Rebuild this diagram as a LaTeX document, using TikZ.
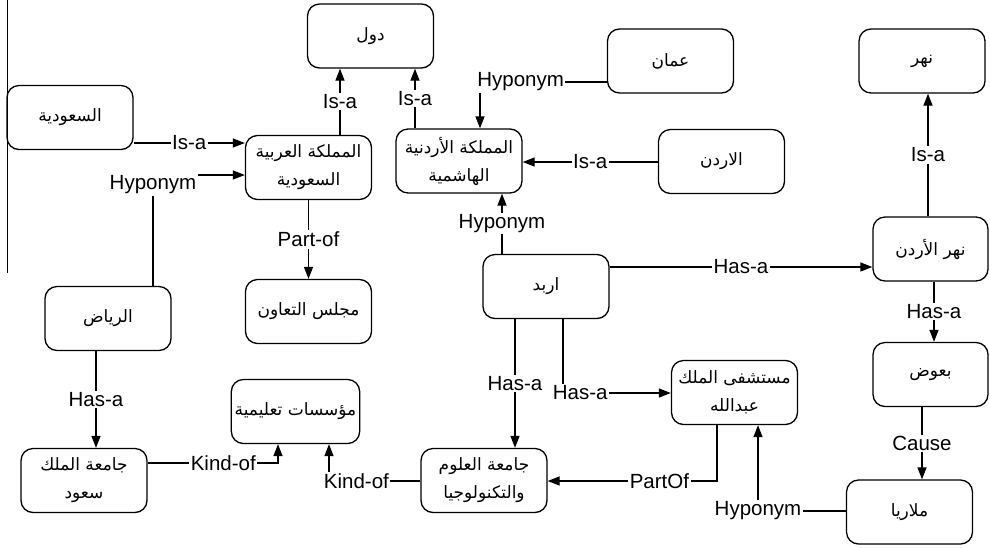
\documentclass[tikz,border=0pt]{standalone}
\usepackage{fontspec}
\setmainfont{Liberation Sans}
\newfontfamily\arabicfont[Script=Arabic]{DejaVu Sans}
\TeXXeTstate=1
\usetikzlibrary{arrows.meta}
\newcommand{\artxt}[1]{\beginR #1\endR}

\begin{document}
\begin{tikzpicture}[x=1pt,y=-1pt,line width=1.3pt,>={Triangle[length=12pt,width=9pt]},
  box/.style={draw,rounded corners=12pt,minimum width=126pt,minimum height=64pt,align=center,
    font={\arabicfont\fontsize{17}{28}\selectfont}},
  lbl/.style={fill=white,inner sep=1.5pt,font={\fontsize{20.5}{22}\selectfont}}]

\useasboundingbox (0,0) rectangle (990,547);
\draw[line width=1pt] (7,0) -- (7,273);

% The concepts
\node[box] (dol) at (370.5,36) {\artxt{دول}};
\node[box] (saudia) at (70,117.5) {\artxt{السعودية}};
\node[box] (mas) at (308.5,167.5) {\artxt{المملكة العربية}\\\artxt{السعودية}};
\node[box] (maj) at (459,161) {\artxt{المملكة الأردنية}\\\artxt{الهاشمية}};
\node[box] (oman) at (670.5,61) {\artxt{عمان}};
\node[box] (urdun) at (721.5,161.5) {\artxt{الاردن}};
\node[box] (nahr) at (922,61) {\artxt{نهر}};
\node[box,minimum width=115pt] (nahrurdun) at (930.5,249) {\artxt{نهر الأردن}};
\node[box] (irbid) at (546,286.5) {\artxt{اربد}};
\node[box] (majlis) at (308.5,311.5) {\artxt{مجلس التعاون}};
\node[box] (riyadh) at (108,318.5) {\artxt{الرياض}};
\node[box] (muassasat) at (295.5,411.5) {\artxt{مؤسسات تعليمية}};
\node[box] (jms) at (84,480.5) {\artxt{جامعة الملك}\\\artxt{سعود}};
\node[box] (just) at (484,480.5) {\artxt{جامعة العلوم}\\\artxt{والتكنولوجيا}};
\node[box] (mustashfa) at (734.5,392.5) {\artxt{مستشفى الملك}\\\artxt{عبدالله}};
\node[box,minimum width=115pt] (baoud) at (930.5,374.5) {\artxt{بعوض}};
\node[box] (malaria) at (909.5,512) {\artxt{ملاريا}};

% The relations
\draw[->] (saudia.east |- 0,143) -- node[lbl] {Is-a} (mas.west |- 0,143);
\draw[->] (riyadh.north -| 153,0) |- node[lbl,yshift=-10pt] {Hyponym} (mas.west |- 0,175);
\draw[->] (mas.north -| 340,0) -- node[lbl] {Is-a} (dol.south -| 340,0);
\draw[->] (maj.north -| 415,0) -- node[lbl] {Is-a} (dol.south -| 415,0);
\draw[->] (oman.west |- 0,82) -| node[lbl,pos=0.34] {Hyponym} (maj.north -| 480,0);
\draw[->] (urdun.west |- 0,162) -- node[lbl] {Is-a} (maj.east |- 0,162);
\draw[->] (irbid.north -| 502,0) -- node[lbl] {Hyponym} (maj.south -| 502,0);
\draw[->] (irbid.east |- 0,267) -- node[lbl] {Has-a} (nahrurdun.west |- 0,267);
\draw[->] (nahrurdun.north -| 928,0) -- node[lbl] {Is-a} (nahr.south -| 928,0);
\draw[->] (mas.south) -- node[lbl] {Part-of} (majlis.north);
\draw[->] (riyadh.south -| 96,0) -- node[lbl] {Has-a} (jms.north -| 96,0);
\draw[->] (jms.east |- 0,463) -| node[lbl,pos=0.29] {Kind-of} (muassasat.south -| 278,0);
\draw[->] (just.west |- 0,481) -| node[lbl,pos=0.35] {Kind-of} (muassasat.south -| 329,0);
\draw[->] (irbid.south -| 515,0) -- node[lbl] {Has-a} (just.north -| 515,0);
\draw[->] (irbid.south -| 563,0) |- node[lbl,pos=0.58] {Has-a} (mustashfa.west |- 0,393);
\draw[->] (mustashfa.south -| 717,0) |- node[lbl,pos=0.67] {PartOf} (just.east |- 0,481);
\draw[->] (malaria.west |- 0,511) -| node[lbl] {Hyponym} (mustashfa.south -| 758,0);
\draw[->] (nahrurdun.south -| 934,0) -- node[lbl] {Has-a} (baoud.north -| 934,0);
\draw[->] (baoud.south -| 922,0) -- node[lbl] {Cause} (malaria.north -| 922,0);

\end{tikzpicture}
\end{document}
